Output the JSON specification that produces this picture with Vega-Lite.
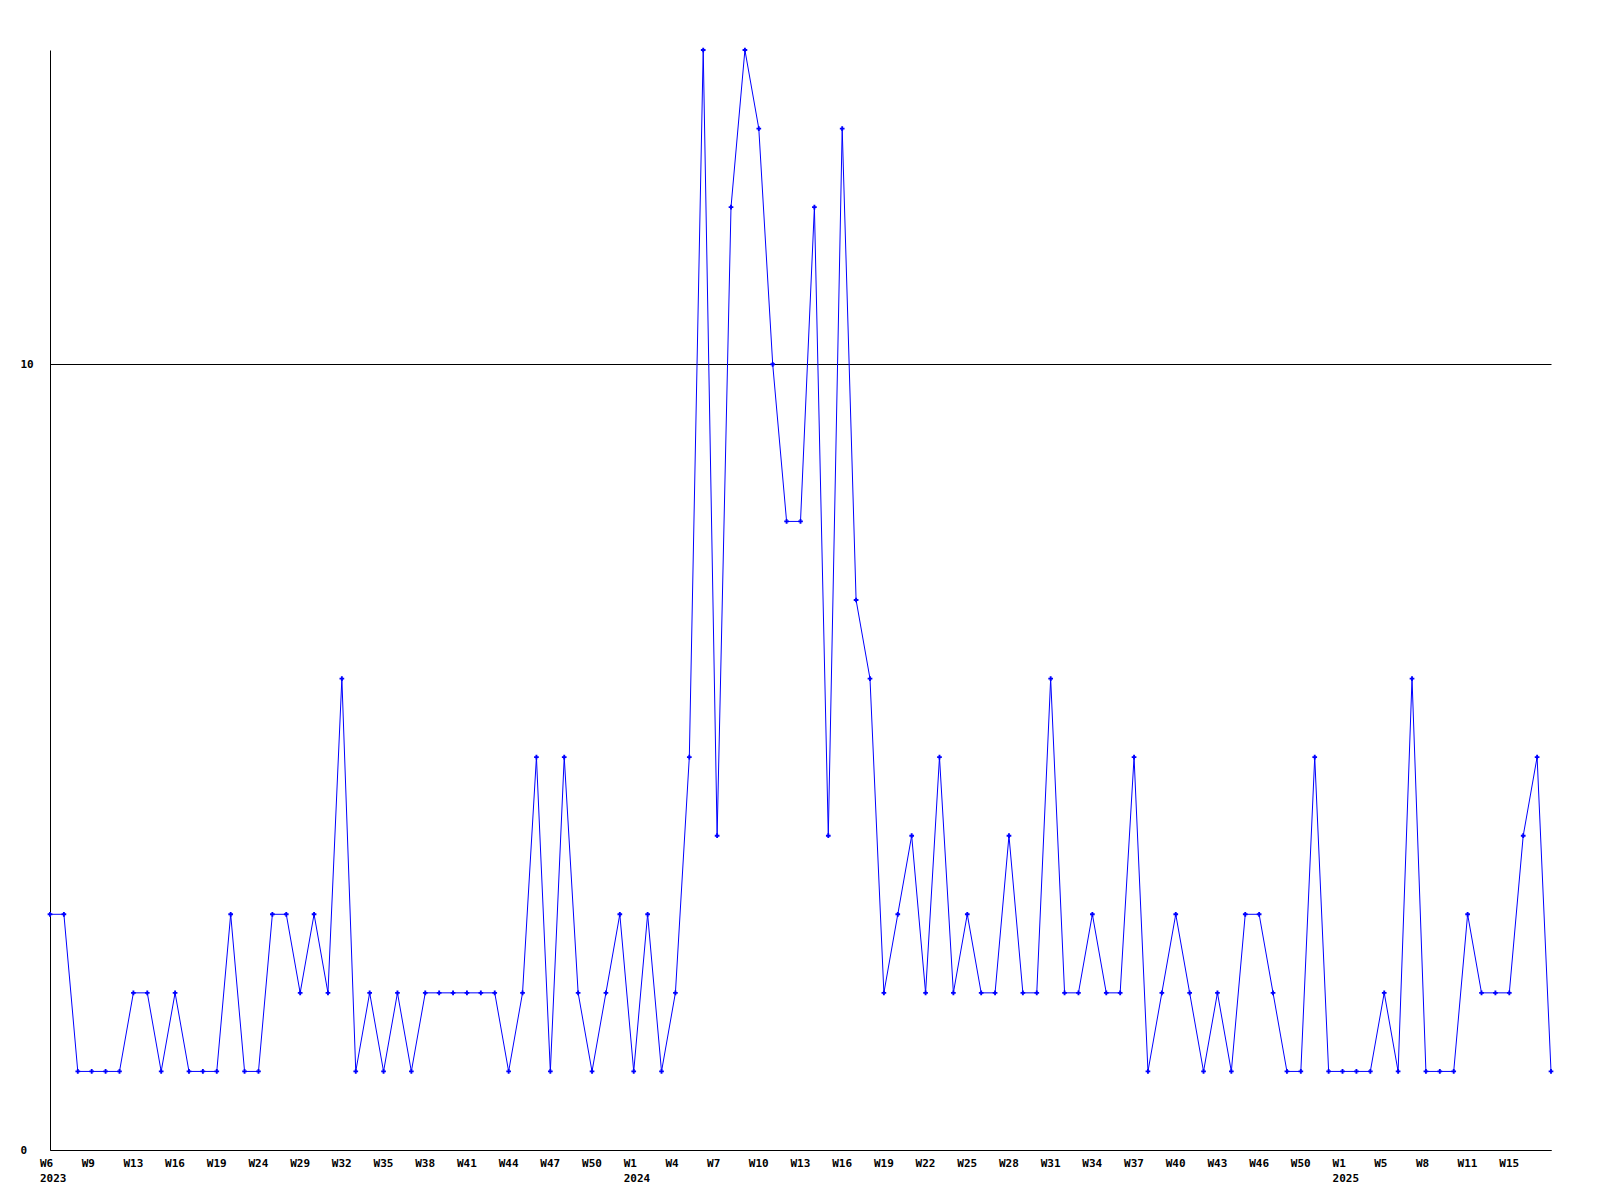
{
  "$schema": "https://vega.github.io/schema/vega-lite/v6.json",
  "autosize": "none",
  "width": 1501,
  "height": 1100,
  "padding": {"left": 50, "top": 50, "right": 49, "bottom": 50},
  "background": "white",
  "data": {"values": [
    {"i":0,"v":3},{"i":1,"v":3},{"i":2,"v":1},{"i":3,"v":1},{"i":4,"v":1},{"i":5,"v":1},{"i":6,"v":2},{"i":7,"v":2},{"i":8,"v":1},{"i":9,"v":2},
    {"i":10,"v":1},{"i":11,"v":1},{"i":12,"v":1},{"i":13,"v":3},{"i":14,"v":1},{"i":15,"v":1},{"i":16,"v":3},{"i":17,"v":3},{"i":18,"v":2},{"i":19,"v":3},
    {"i":20,"v":2},{"i":21,"v":6},{"i":22,"v":1},{"i":23,"v":2},{"i":24,"v":1},{"i":25,"v":2},{"i":26,"v":1},{"i":27,"v":2},{"i":28,"v":2},{"i":29,"v":2},
    {"i":30,"v":2},{"i":31,"v":2},{"i":32,"v":2},{"i":33,"v":1},{"i":34,"v":2},{"i":35,"v":5},{"i":36,"v":1},{"i":37,"v":5},{"i":38,"v":2},{"i":39,"v":1},
    {"i":40,"v":2},{"i":41,"v":3},{"i":42,"v":1},{"i":43,"v":3},{"i":44,"v":1},{"i":45,"v":2},{"i":46,"v":5},{"i":47,"v":14},{"i":48,"v":4},{"i":49,"v":12},
    {"i":50,"v":14},{"i":51,"v":13},{"i":52,"v":10},{"i":53,"v":8},{"i":54,"v":8},{"i":55,"v":12},{"i":56,"v":4},{"i":57,"v":13},{"i":58,"v":7},{"i":59,"v":6},
    {"i":60,"v":2},{"i":61,"v":3},{"i":62,"v":4},{"i":63,"v":2},{"i":64,"v":5},{"i":65,"v":2},{"i":66,"v":3},{"i":67,"v":2},{"i":68,"v":2},{"i":69,"v":4},
    {"i":70,"v":2},{"i":71,"v":2},{"i":72,"v":6},{"i":73,"v":2},{"i":74,"v":2},{"i":75,"v":3},{"i":76,"v":2},{"i":77,"v":2},{"i":78,"v":5},{"i":79,"v":1},
    {"i":80,"v":2},{"i":81,"v":3},{"i":82,"v":2},{"i":83,"v":1},{"i":84,"v":2},{"i":85,"v":1},{"i":86,"v":3},{"i":87,"v":3},{"i":88,"v":2},{"i":89,"v":1},
    {"i":90,"v":1},{"i":91,"v":5},{"i":92,"v":1},{"i":93,"v":1},{"i":94,"v":1},{"i":95,"v":1},{"i":96,"v":2},{"i":97,"v":1},{"i":98,"v":6},{"i":99,"v":1},
    {"i":100,"v":1},{"i":101,"v":1},{"i":102,"v":3},{"i":103,"v":2},{"i":104,"v":2},{"i":105,"v":2},{"i":106,"v":4},{"i":107,"v":5},{"i":108,"v":1}
  ]},
  "encoding": {
    "x": {
      "field": "i", "type": "quantitative",
      "scale": {"domain": [0, 108], "nice": false, "zero": false},
      "axis": {
        "title": null,
        "grid": false,
        "ticks": false,
        "tickSize": 0,
        "domainColor": "black",
        "domainWidth": 1,
        "values": [0, 3, 6, 9, 12, 15, 18, 21, 24, 27, 30, 33, 36, 39, 42, 45, 48, 51, 54, 57, 60, 63, 66, 69, 72, 75, 78, 81, 84, 87, 90, 93, 96, 99, 102, 105],
        "labelExpr": "[['W6','2023'],'W9','W13','W16','W19','W24','W29','W32','W35','W38','W41','W44','W47','W50',['W1','2024'],'W4','W7','W10','W13','W16','W19','W22','W25','W28','W31','W34','W37','W40','W43','W46','W50',['W1','2025'],'W5','W8','W11','W15'][round(datum.value / 3)]",
        "labelAlign": "left",
        "labelBaseline": "top",
        "labelPadding": 7,
        "labelOffset": -10.5,
        "labelFont": "DejaVu Sans Mono",
        "labelFontWeight": "bold",
        "labelFontSize": 11,
        "labelLineHeight": 15,
        "labelColor": "black",
        "labelOverlap": false,
        "labelFlush": false,
        "labelBound": false
      }
    },
    "y": {
      "field": "v", "type": "quantitative",
      "scale": {"domain": [0, 14], "nice": false, "zero": true},
      "axis": {
        "title": null,
        "values": [0, 10],
        "grid": true,
        "gridColor": "black",
        "gridOpacity": 1,
        "gridWidth": 1,
        "ticks": false,
        "tickSize": 0,
        "domainColor": "black",
        "domainWidth": 1,
        "labelAlign": "left",
        "labelBaseline": "middle",
        "labelPadding": 30,
        "labelFont": "DejaVu Sans Mono",
        "labelFontWeight": "bold",
        "labelFontSize": 11,
        "labelColor": "black",
        "labelOverlap": false,
        "labelFlush": false
      }
    }
  },
  "layer": [
    {"mark": {"type": "line", "color": "#0000ff", "strokeWidth": 1, "interpolate": "linear"}},
    {"mark": {"type": "point", "shape": "cross", "size": 22, "filled": true, "color": "#0000ff", "opacity": 1}}
  ],
  "config": {"view": {"stroke": null}}
}
